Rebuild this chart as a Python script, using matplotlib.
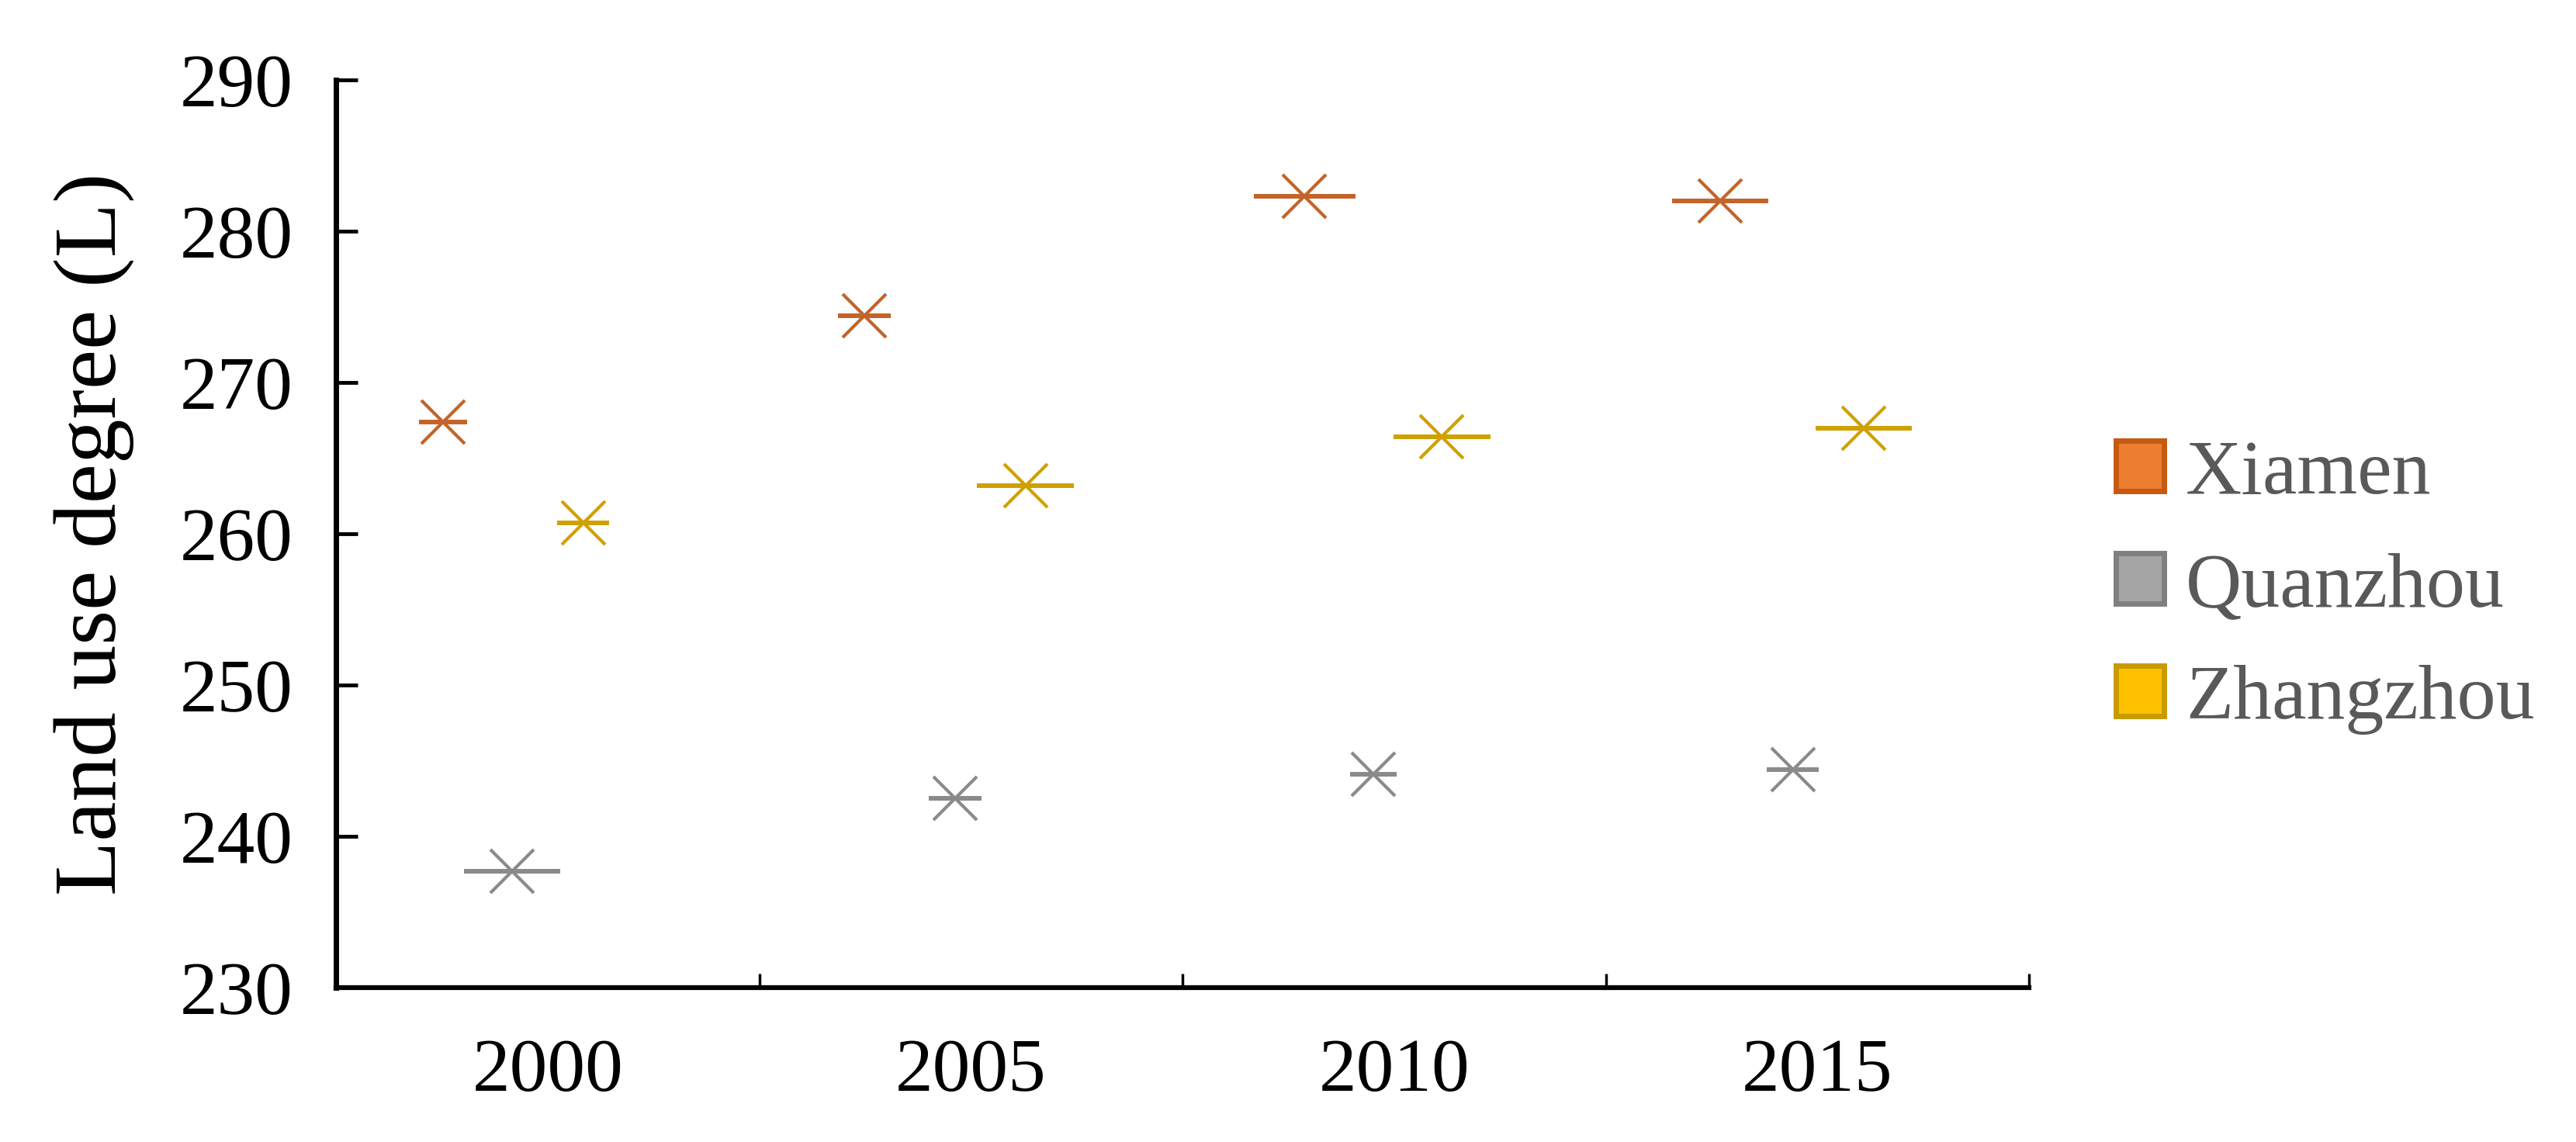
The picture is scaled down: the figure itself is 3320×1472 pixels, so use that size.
import matplotlib
matplotlib.use('Agg')
from matplotlib import pyplot as plt
from matplotlib.patches import Patch

plt.rcParams['font.family'] = ['Liberation Serif', 'DejaVu Serif']

# years and land use degree values
years = ['2000', '2005', '2010', '2015']
cities = ['Xiamen', 'Quanzhou', 'Zhangzhou']
xiamen = [267.4, 274.4, 282.3, 282.0]
quanzhou = [237.7, 242.5, 244.1, 244.4]
zhangzhou = [260.7, 263.2, 266.4, 267.0]
# horizontal bar half-widths (in category widths)
xiamen_err = [0.057, 0.062, 0.120, 0.114]
quanzhou_err = [0.114, 0.062, 0.055, 0.061]
zhangzhou_err = [0.062, 0.114, 0.114, 0.114]

# where each marker sits inside its year slot
xiamen_pos = [0.253, 0.248, 0.288, 0.270]
quanzhou_pos = [0.416, 0.463, 0.451, 0.442]
zhangzhou_pos = [0.584, 0.629, 0.613, 0.610]

line_colors = ['#C3642A', '#8A8A8A', '#D0A000']
fill_colors = ['#ED7D31', '#A5A5A5', '#FFC000']
edge_colors = ['#C55A11', '#7F7F7F', '#C99A00']

fig = plt.figure(figsize=(33.2, 14.72), dpi=100)
ax = fig.add_axes([433 / 3320, 1 - 1273 / 1472, (2615 - 433) / 3320, (1273 - 103) / 1472])

series = [(xiamen, xiamen_err, xiamen_pos),
          (quanzhou, quanzhou_err, quanzhou_pos),
          (zhangzhou, zhangzhou_err, zhangzhou_pos)]
for (vals, err, pos), c in zip(series, line_colors):
    x = [i + p for i, p in enumerate(pos)]
    ax.errorbar(x, vals, xerr=err, fmt='x', color=c, ecolor=c,
                ms=40, mew=3, elinewidth=4.3, capsize=0, zorder=3)

ax.set_xlim(0, len(years))
ax.set_ylim(230, 290)
ax.set_yticks(range(230, 291, 10))

# category boundaries as major ticks, year labels in the middle
ax.set_xticks(range(len(years) + 1))
ax.set_xticklabels([])
ax.set_xticks([i + 0.5 for i in range(len(years))], minor=True)
ax.set_xticklabels(years, minor=True)

ax.tick_params(axis='x', which='major', direction='in', length=13, width=2.5, color='black')
ax.tick_params(axis='x', which='minor', length=0, pad=47, labelsize=70)
ax.tick_params(axis='y', direction='in', length=20, width=3.5, pad=40, labelsize=70)

for s in ['top', 'right']:
    ax.spines[s].set_visible(False)
ax.spines['left'].set_linewidth(5)
ax.spines['bottom'].set_linewidth(4.5)

ax.set_ylabel('Land use degree (L)', fontsize=83, labelpad=42)

handles = [Patch(facecolor=f, edgecolor=e, linewidth=5) for f, e in zip(fill_colors, edge_colors)]
leg = fig.legend(handles, cities, loc='center left',
                 bbox_to_anchor=(2727 / 3320, 1 - 757 / 1472),
                 frameon=False, fontsize=72, borderpad=0, borderaxespad=0,
                 handlelength=0.62, handleheight=0.62, handletextpad=0.28,
                 labelspacing=0.55)
for t in leg.get_texts():
    t.set_color('#595959')

fig.savefig('out.png', dpi=100)
